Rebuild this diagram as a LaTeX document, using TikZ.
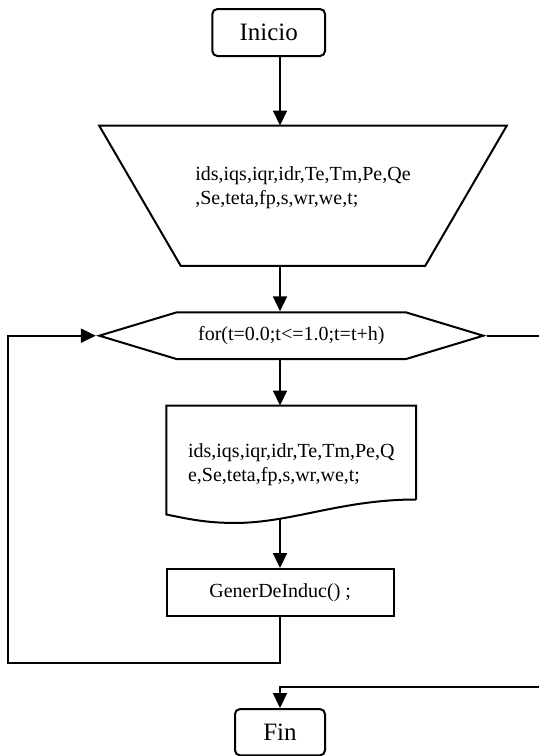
\documentclass[tikz,border=0pt]{standalone}
\usepackage{fontspec}
\setmainfont{Liberation Serif}
\usetikzlibrary{positioning, calc, shapes.geometric, shapes.symbols, arrows.meta}

\begin{document}
\begin{tikzpicture}[x=1pt, y=-1pt,
            term/.style={rectangle, rounded corners=5pt, draw, line width=2pt, minimum height=47pt, font=\fontsize{25}{30}\selectfont},
            io/.style={rectangle, minimum width=407.4pt, minimum height=140pt, align=left, text depth=21pt, font=\fontsize{20}{24}\selectfont},
            cond/.style={signal, signal to=west and east, signal pointer angle=33.6, draw, line width=2pt, minimum width=384pt, minimum height=46.7pt, font=\fontsize{20}{24}\selectfont},
            proc/.style={rectangle, draw, line width=2pt, minimum width=227pt, minimum height=47pt, font=\fontsize{20}{24}\selectfont},
            show/.style={rectangle, minimum width=249.3pt, minimum height=117pt, align=left, font=\fontsize{20}{24}\selectfont},
            wire/.style={line width=2pt},
            flow/.style={wire, -{Triangle[length=15pt, width=14pt]}}
        ]
            \useasboundingbox (0,0) rectangle (539,756);
            \coordinate (eje) at (280,0);
            \coordinate (borde) at (539,0);
            \coordinate (regreso) at (8.3,662.7);
            \coordinate (entrada) at (539,686.7);

            \node[term, minimum width=112.7pt] (inicio) at (268.7,32.5) {Inicio};
            \node[io] (datos) at (303,195.7) {ids,iqs,iqr,idr,Te,Tm,Pe,Qe\\,Se,teta,fp,s,wr,we,t;};
            \node[cond] (ciclo) at (291.3,335.7) {for(t=0.0;t<=1.0;t=t+h)};
            \node[show] (salida) at (291.3,464.2) {ids,iqs,iqr,idr,Te,Tm,Pe,Q\\e,Se,teta,fp,s,wr,we,t;};
            \node[proc] (gener) at (280.2,592.5) {GenerDeInduc() ;};
            \node[term, minimum width=90pt, minimum height=46.3pt] (fin) at (280,732.2) {Fin};

            % input trapezoid
            \draw[wire] (datos.north west) -- (datos.north east) -- ($(datos.south east)+(-81.7,0)$) -- ($(datos.south west)+(81.7,0)$) -- cycle;
            % document outline with wavy bottom
            \draw[wire] ($(salida.south east)+(0,-23.4)$) -- (salida.north east) -- (salida.north west) -- ($(salida.south west)+(0,-8.4)$)
                .. controls ($(salida.south west)+(18.3,-4.7)$) and ($(salida.south west)+(38.3,0)$) .. ($(salida.south west)+(66.3,0)$)
                .. controls ($(salida.south west)+(123.3,0.8)$) and ($(salida.south east)+(-76,-23.4)$) .. ($(salida.south east)+(0,-23.4)$);

            \draw[flow] (inicio.south -| eje) -- (datos.north -| eje);
            \draw[flow] (datos.south -| eje) -- (ciclo.north -| eje);
            \draw[flow] (ciclo.south -| eje) -- (salida.north -| eje);
            \draw[flow] ($(salida.south -| eje)+(0,-4)$) -- (gener.north -| eje);
            \draw[flow] (gener.south -| eje) |- (regreso) |- (ciclo.west);
            \draw[wire] (ciclo.east) -- (ciclo.east -| borde);
            \draw[flow] (entrada) -| (fin.north);
        \end{tikzpicture}
\end{document}
